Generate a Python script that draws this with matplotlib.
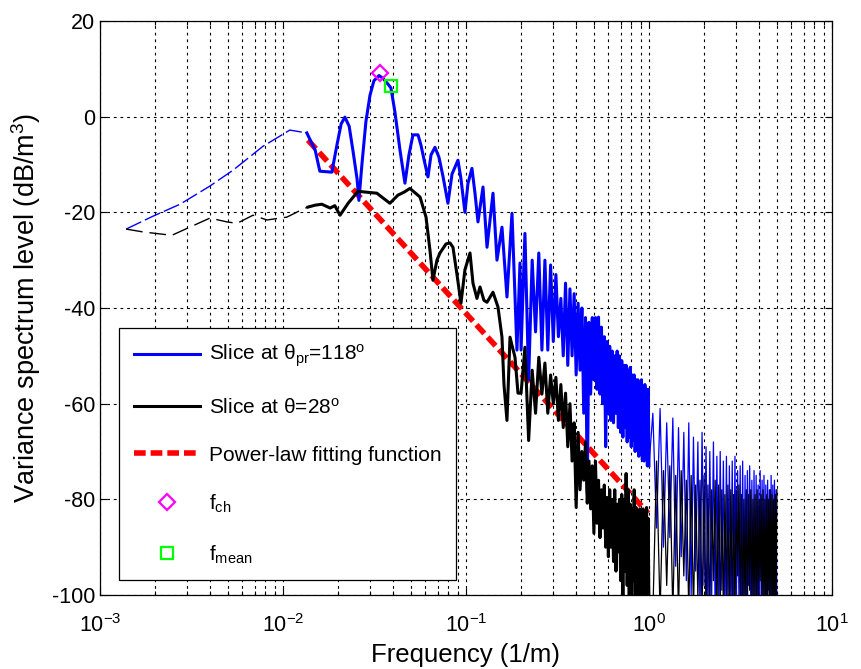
import matplotlib
matplotlib.use('Agg')
import matplotlib.pyplot as plt
from matplotlib.ticker import LogLocator, NullFormatter

plt.rcParams['font.family'] = ['Liberation Sans', 'DejaVu Sans']
plt.rcParams['mathtext.default'] = 'regular'
plt.rcParams['axes.unicode_minus'] = False

# spectrum slice at theta_pr = 118 deg (blue)
blue_low_f = [0.00139, 0.00195, 0.00274, 0.00399, 0.00533, 0.00777, 0.00987, 0.0109, 0.0135]
blue_low_db = [-23.5, -20.8, -18.3, -14.5, -11.2, -6.2, -3.8, -2.8, -3.4]

blue_mid_f = [0.0135, 0.0150, 0.0159, 0.0185, 0.0197, 0.0208, 0.0218, 0.0230, 0.0241, 0.0254,
              0.0260, 0.0270, 0.0284, 0.0299, 0.0314, 0.0335, 0.0352, 0.0375, 0.0389, 0.0409,
              0.0436, 0.0464, 0.0488, 0.0513, 0.0547, 0.0568, 0.0590, 0.0620, 0.0644, 0.0677,
              0.0712, 0.0749, 0.0797, 0.0839, 0.0904, 0.0939, 0.0987, 0.1025, 0.1078, 0.112,
              0.1163, 0.1239, 0.1303, 0.1405, 0.1477, 0.1573, 0.1675, 0.1784, 0.1899, 0.1973,
              0.20, 0.21, 0.22, 0.23, 0.24, 0.25, 0.26, 0.27, 0.28, 0.29,
              0.30, 0.31, 0.32, 0.33, 0.34, 0.35, 0.36, 0.37, 0.38, 0.39,
              0.40, 0.41, 0.42, 0.43, 0.44, 0.45, 0.46, 0.47, 0.48, 0.49,
              0.50, 0.51, 0.52, 0.53, 0.54, 0.55, 0.56, 0.57, 0.58, 0.59,
              0.60, 0.61, 0.62, 0.63, 0.64, 0.65, 0.66, 0.67, 0.68, 0.69,
              0.70, 0.71, 0.72, 0.73, 0.74, 0.75, 0.76, 0.77, 0.78, 0.79,
              0.80, 0.81, 0.82, 0.83, 0.84, 0.85, 0.86, 0.87, 0.88, 0.89,
              0.90, 0.91, 0.92, 0.93, 0.94, 0.95, 0.96, 0.97, 0.98, 0.99, 1.00]
blue_mid_db = [-3.4, -7.0, -11.4, -11.6, -6.0, -1.5, -0.1, -2.0, -7.0, -13.0,
               -17.5, -10.0, -1.0, 4.5, 7.5, 8.6, 8.0, 6.8, 6.0, 1.0,
               -7.0, -13.9, -8.0, -3.8, -3.8, -6.0, -9.0, -12.6, -8.0, -6.4,
               -8.5, -12.5, -18.1, -12.0, -9.1, -13.0, -20.0, -14.0, -10.8, -16.0,
               -22.0, -14.7, -27.3, -16.0, -30.0, -23.1, -37.7, -20.2, -48.8, -30.6,
               -48.8, -24.4, -55.0, -30.0, -45.0, -28.5, -48.8, -30.0, -48.8, -31.0,
               -47.0, -33.0, -46.0, -38.0, -50.0, -34.8, -52.0, -36.0, -50.0, -37.0,
               -54.0, -39.0, -53.0, -40.0, -62.0, -42.0, -78.7, -43.0, -58.0, -42.0,
               -55.0, -42.0, -57.0, -41.9, -58.0, -44.0, -60.0, -46.0, -69.0, -47.0,
               -62.0, -48.0, -63.5, -49.0, -64.0, -50.0, -62.0, -49.0, -65.0, -50.0,
               -66.0, -51.0, -67.0, -52.0, -65.0, -52.0, -68.0, -53.0, -67.0, -52.4,
               -69.0, -54.0, -67.7, -54.0, -70.0, -55.0, -69.0, -55.0, -71.0, -56.0,
               -70.0, -55.0, -71.8, -57.0, -72.0, -56.0, -71.0, -57.0, -73.0, -57.0, -73.0]

blue_high_f = [1.00, 1.05, 1.10, 1.15, 1.20, 1.25, 1.30, 1.35, 1.40, 1.45, 1.50, 1.55, 1.60, 1.65, 1.70, 1.75,
               1.80, 1.85, 1.90, 1.95, 2.00, 2.05, 2.10, 2.15, 2.20, 2.25, 2.30, 2.35, 2.40, 2.45,
               2.50, 2.55, 2.60, 2.65, 2.70, 2.75, 2.80, 2.85, 2.90, 2.95, 3.00, 3.05, 3.10, 3.15,
               3.20, 3.25, 3.30, 3.35, 3.40, 3.45, 3.50, 3.55, 3.60, 3.65, 3.70, 3.75, 3.80, 3.85,
               3.90, 3.95, 4.00, 4.05, 4.10, 4.15, 4.20, 4.25, 4.30, 4.35, 4.40, 4.45, 4.50, 4.55,
               4.60, 4.65, 4.70, 4.75, 4.80, 4.85, 4.90, 4.95, 5.00]
blue_high_db = [-73.0, -62.0, -86.0, -61.0, -90.0, -64.0, -88.0, -63.0, -94.0, -65.0, -92.0, -66.0, -97.0, -64.0, -100.0, -67.0,
                -95.0, -68.0, -104.0, -66.0, -98.0, -69.0, -104.0, -70.0, -101.0, -68.0, -104.0, -71.0, -104.0, -70.0,
                -99.0, -72.0, -104.0, -71.0, -104.0, -73.0, -102.0, -72.0, -104.0, -71.0, -104.0, -74.0, -100.0, -73.0,
                -104.0, -72.0, -104.0, -75.0, -104.0, -74.0, -98.0, -73.0, -104.0, -76.0, -104.0, -74.0, -103.0, -75.0,
                -104.0, -77.0, -104.0, -74.0, -101.0, -76.0, -104.0, -75.0, -104.0, -77.0, -104.0, -76.0, -99.0, -78.0,
                -104.0, -75.0, -104.0, -77.0, -104.0, -76.0, -104.0, -78.0, -104.0]

# spectrum slice at theta = 28 deg (black)
black_low_f = [0.00139, 0.00172, 0.00247, 0.00399, 0.00494, 0.00561, 0.00686, 0.00818, 0.0105, 0.0129, 0.0137]
black_low_db = [-23.5, -24.1, -24.8, -21.2, -22.0, -22.3, -20.6, -21.6, -21.0, -19.3, -18.9]

black_mid_f = [0.0137, 0.0150, 0.0163, 0.0181, 0.0192, 0.0205, 0.0227, 0.0257, 0.0288, 0.0326,
               0.0352, 0.0384, 0.0425, 0.0458, 0.0494, 0.0561, 0.0605, 0.0636, 0.0660, 0.0694,
               0.0721, 0.0778, 0.0818, 0.0849, 0.0893, 0.0939, 0.0987, 0.1052, 0.1092, 0.1148,
               0.1193, 0.1254, 0.1303, 0.1405, 0.1496, 0.1573, 0.1613, 0.1675, 0.174, 0.1853,
               0.1924,
               0.20, 0.21, 0.22, 0.23, 0.24, 0.25, 0.26, 0.27, 0.28, 0.29,
               0.30, 0.31, 0.32, 0.33, 0.34, 0.35, 0.36, 0.37, 0.38, 0.39,
               0.40, 0.41, 0.42, 0.43, 0.44, 0.45, 0.46, 0.47, 0.48, 0.49,
               0.50, 0.51, 0.52, 0.53, 0.54, 0.55, 0.56, 0.57, 0.58, 0.59,
               0.60, 0.61, 0.62, 0.63, 0.64, 0.65, 0.66, 0.67, 0.68, 0.69,
               0.70, 0.71, 0.72, 0.73, 0.74, 0.75, 0.76, 0.77, 0.78, 0.79,
               0.80, 0.81, 0.82, 0.83, 0.84, 0.85, 0.86, 0.87, 0.88, 0.89,
               0.90, 0.91, 0.92, 0.93, 0.94, 0.95, 0.96, 0.97, 0.98, 0.99, 1.00]
black_mid_db = [-18.9, -18.5, -18.3, -19.1, -18.6, -20.6, -18.1, -15.6, -15.8, -16.0,
                -17.0, -18.1, -16.4, -15.8, -15.0, -16.8, -21.0, -28.0, -34.2, -30.0,
                -28.5, -26.6, -26.4, -27.3, -33.0, -39.0, -32.0, -28.5, -34.8, -38.0,
                -35.6, -38.4, -38.8, -36.7, -39.8, -46.1, -56.0, -63.5, -46.1, -50.3,
                -57.8,
                -57.8, -48.2, -67.7, -53.0, -62.0, -50.3, -58.0, -51.5, -62.0, -54.0,
                -60.0, -54.5, -63.5, -56.0, -65.0, -57.8, -69.0, -60.0, -72.0, -64.0,
                -81.7, -66.0, -78.0, -70.0, -76.0, -68.0, -80.8, -72.0, -82.0, -73.0,
                -87.1, -72.0, -85.0, -76.0, -88.0, -78.0, -86.0, -77.0, -90.0, -79.6,
                -92.0, -78.0, -90.0, -80.0, -93.0, -78.0, -95.0, -81.0, -91.0, -80.0,
                -97.0, -79.0, -104.0, -80.0, -95.0, -74.6, -98.0, -78.0, -104.0, -81.0,
                -104.0, -82.0, -97.0, -78.0, -104.0, -81.7, -104.0, -83.0, -104.0, -82.0,
                -104.0, -84.0, -104.0, -82.0, -104.0, -83.0, -104.0, -81.7, -104.0, -84.0, -104.0]

black_high_f = blue_high_f
black_high_db = [-104.0, -104.0, -72.0, -104.0, -74.0, -98.0, -73.0, -104.0, -75.0, -104.0, -74.0, -96.0, -76.0, -104.0, -75.0, -104.0,
                 -77.0, -101.0, -76.0, -104.0, -75.0, -104.0, -77.0, -104.0, -78.0, -97.0, -76.0, -104.0, -77.0, -104.0,
                 -78.0, -104.0, -79.0, -100.0, -77.0, -104.0, -78.0, -104.0, -79.0, -104.0, -78.0, -96.0, -77.0, -104.0,
                 -79.0, -104.0, -80.0, -104.0, -78.0, -104.0, -79.0, -99.0, -78.0, -104.0, -80.0, -104.0, -79.0, -104.0,
                 -78.0, -104.0, -80.0, -97.0, -79.0, -104.0, -78.0, -104.0, -80.0, -104.0, -79.0, -104.0, -80.0, -100.0,
                 -78.0, -104.0, -79.0, -104.0, -80.0, -104.0, -79.0, -104.0, -78.0]

# power-law fit
fit_f = [0.0137, 0.99]
fit_db = [-4.9, -82.9]

# characteristic and mean frequencies
f_ch = [0.0339]
f_ch_db = [9.2]
f_mean = [0.0389]
f_mean_db = [6.5]


def main():
    fig = plt.figure(figsize=(8.61, 6.69), dpi=100)
    ax = fig.add_axes([0.1161, 0.1106, 0.8502, 0.858])

    ax.plot(fit_f, fit_db, color='red', lw=4, dashes=(2.1, 0.9), zorder=3,
            label='Power-law fitting function')

    ax.plot(blue_low_f, blue_low_db, color='blue', lw=1.0, dashes=(12, 3), zorder=4)
    ax.plot(blue_mid_f, blue_mid_db, color='blue', lw=2.2, zorder=4,
            label=r'Slice at $\theta_{pr}$=118$^{o}$')
    ax.plot(blue_high_f, blue_high_db, color='blue', lw=0.9, zorder=4)

    ax.plot(black_low_f, black_low_db, color='black', lw=1.0, dashes=(12, 5), zorder=5)
    ax.plot(black_mid_f, black_mid_db, color='black', lw=2.2, zorder=5,
            label=r'Slice at $\theta$=28$^{o}$')
    ax.plot(black_high_f, black_high_db, color='black', lw=0.9, zorder=5)

    ax.plot(f_ch, f_ch_db, ls='none', marker='D', ms=8, mfc='none', mec='magenta', mew=1.6,
            zorder=6, label=r'$f_{ch}$')
    ax.plot(f_mean, f_mean_db, ls='none', marker='s', ms=9, mfc='none', mec='lime', mew=1.6,
            zorder=6, label=r'$f_{mean}$')

    ax.set_xscale('log')
    ax.set_xlim(1e-3, 1e1)
    ax.set_ylim(-100, 20)
    ax.set_yticks([-100, -80, -60, -40, -20, 0, 20])
    ax.xaxis.set_minor_locator(LogLocator(base=10, subs=range(2, 10)))
    ax.xaxis.set_minor_formatter(NullFormatter())

    grid_style = dict(color='black', lw=0.8, dashes=(2.5, 3.5))
    ax.grid(True, which='major', axis='both', **grid_style)
    ax.grid(True, which='minor', axis='x', **grid_style)

    ax.tick_params(which='both', direction='in', top=True, right=True, labelsize=15.5, width=0.8)
    ax.tick_params(which='major', length=5)
    ax.tick_params(which='minor', length=3)
    ax.tick_params(axis='x', which='major', pad=14)
    for s in ax.spines.values():
        s.set_linewidth(0.9)

    ax.set_xlabel('Frequency (1/m)', fontsize=18.5, labelpad=4)
    ax.set_ylabel(r'Variance spectrum level (dB/m$^3$)', fontsize=19.5, labelpad=6)

    handles, labels = ax.get_legend_handles_labels()
    order = [1, 2, 0, 3, 4]
    leg = ax.legend([handles[i] for i in order], [labels[i] for i in order],
                    loc='lower left', bbox_to_anchor=(0.026, 0.026), borderaxespad=0,
                    fontsize=15, handlelength=3.2, handletextpad=0.4, labelspacing=1.35,
                    borderpad=0.7, fancybox=False, framealpha=1, edgecolor='black')
    leg.get_frame().set_linewidth(0.9)
    leg.set_zorder(10)

    fig.savefig('out.png', dpi=100)


if __name__ == "__main__":
    main()
